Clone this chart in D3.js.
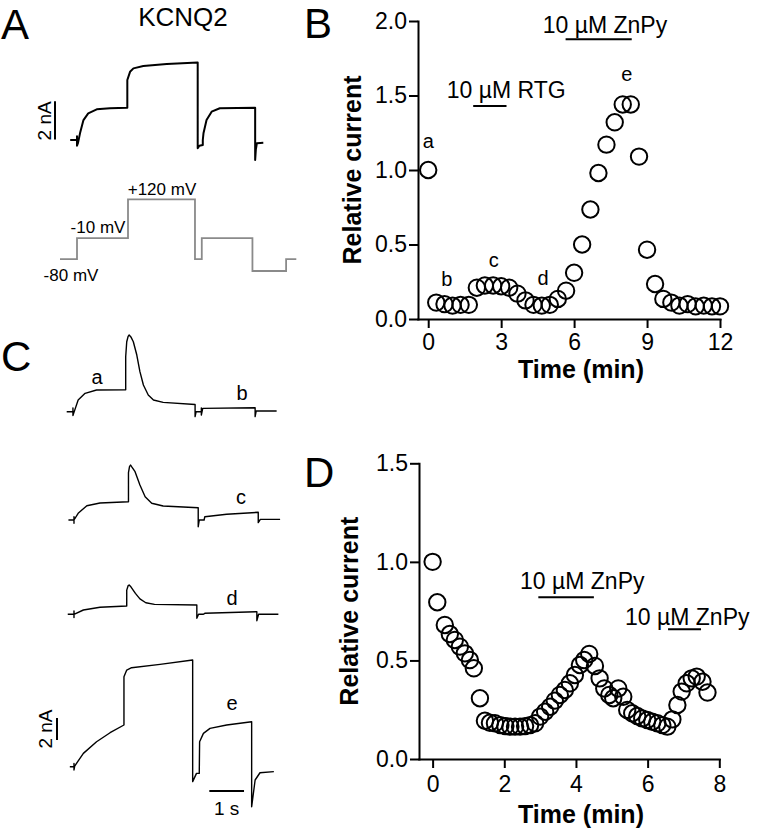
<!DOCTYPE html>
<html><head><meta charset="utf-8">
<script src="https://cdn.jsdelivr.net/npm/d3@7"></script>
<style>
body{margin:0;background:#fff}
svg{display:block}
text{font-family:"Liberation Sans",Arial,Helvetica,sans-serif;fill:#000}
</style>
</head><body>
<svg id="fig" width="757" height="832"></svg>
<script>
// ---------------- DATA ----------------
// Panel B: relative current vs time (min)
const timeB = [0,0.33,0.67,1,1.33,1.67,2,2.33,2.67,3,3.33,3.67,4,4.33,4.67,5,5.33,5.67,6,6.33,6.67,7,7.33,7.67,8,8.33,8.67,9,9.33,9.67,10,10.33,10.67,11,11.33,11.67,12];
const currentB = [1.0,0.11,0.10,0.09,0.095,0.095,0.21,0.225,0.225,0.22,0.21,0.17,0.125,0.095,0.09,0.095,0.135,0.19,0.31,0.50,0.735,0.98,1.17,1.32,1.44,1.44,1.09,0.465,0.235,0.135,0.11,0.09,0.10,0.085,0.09,0.085,0.085];
const ticksBx = [0,3,6,9,12];
const ticksBy = [0,0.5,1.0,1.5,2.0];
const pointLabelsB = ["a","b","c","d","e"];
const pointLabelTimesB = [0,0.76,2.7,4.72,8.17];
const pointLabelValsB = [1.146,0.219,0.348,0.225,1.597];

// Panel D: relative current vs time (min)
const timeD = [0,0.13,0.34,0.48,0.62,0.76,0.90,1.04,1.15,1.32,1.46,1.60,1.74,1.89,2.03,2.17,2.30,2.44,2.58,2.72,2.86,3.0,3.14,3.28,3.41,3.55,3.69,3.83,3.97,4.11,4.23,4.37,4.53,4.66,4.79,4.93,5.04,5.18,5.32,5.43,5.57,5.71,5.85,5.99,6.13,6.27,6.41,6.55,6.69,6.83,6.95,7.09,7.23,7.37,7.53,7.67];
const currentD = [1.0,0.795,0.68,0.634,0.604,0.57,0.536,0.502,0.46,0.308,0.194,0.184,0.181,0.172,0.167,0.164,0.164,0.164,0.167,0.172,0.181,0.215,0.24,0.265,0.296,0.325,0.35,0.384,0.426,0.477,0.502,0.533,0.472,0.409,0.358,0.325,0.308,0.358,0.316,0.249,0.232,0.218,0.206,0.198,0.189,0.181,0.172,0.164,0.201,0.274,0.342,0.384,0.409,0.418,0.392,0.337];
const ticksDx = [0,2,4,6,8];
const ticksDy = [0,0.5,1.0,1.5];

// Drug applications [start, end] in min
const rtgB = [1.85,3.22];
const znpyB = [5.65,8.37];
const znpyD1 = [2.95,4.5];
const znpyD2 = [6.57,7.49];

// Panel A: voltage protocol [time s, mV] and current trace [time s, nA]
const protocolA = [[0,-80],[0.5,-80],[0.5,-10],[2,-10],[2,120],[3.97,120],[3.97,-80],[4.17,-80],[4.17,-10],[5.66,-10],[5.66,-120],[6.65,-120],[6.65,-80],[6.95,-80]];
const protocolLabels = ["+120 mV","-10 mV","-80 mV"];
const traceA = [[0.3,0],[0.5,0],[0.5,0.2],[0.5,-0.3],[0.53,-0.15],[0.59,0.36],[0.69,1.04],[0.83,1.39],[1.08,1.6],[1.47,1.66],[1.98,1.69],[1.98,3.13],[2.06,3.56],[2.16,3.74],[2.45,3.86],[3.14,3.97],[4.05,4.05],[4.05,-0.43],[4.1,-0.3],[4.2,-0.26],[4.2,0.0],[4.22,0.35],[4.31,1.04],[4.46,1.48],[4.7,1.66],[5.74,1.68],[5.74,-1.04],[5.76,-0.5],[5.79,-0.17],[5.98,-0.15]];

// Panel C: current traces a, c, d, e [time s, nA]
const traceCa = [[0.32,0],[0.5,0],[0.5,0.35],[0.5,-0.35],[0.52,-0.15],[0.65,1.06],[0.85,1.67],[1.18,1.97],[2.02,2.0],[2.02,5.0],[2.05,6.36],[2.09,6.85],[2.12,6.97],[2.17,6.8],[2.24,6.36],[2.34,5.15],[2.43,3.64],[2.53,2.43],[2.67,1.52],[2.82,1.06],[3.1,0.85],[4.02,0.65],[4.02,-0.45],[4.05,0],[4.2,0],[4.2,0.35],[4.2,-0.3],[4.24,0.3],[5.75,0.36],[5.75,-0.45],[5.78,0.06],[6.37,0.06]];
const traceCc = [[0.37,0],[0.53,0],[0.53,0.3],[0.53,-0.3],[0.53,0],[0.65,0.61],[0.9,1.3],[1.28,1.55],[2.1,1.66],[2.1,4.3],[2.13,4.85],[2.16,5.0],[2.2,4.8],[2.29,4.39],[2.43,3.18],[2.58,2.12],[2.77,1.52],[3.1,1.27],[4.11,1.12],[4.11,-0.61],[4.14,0],[4.28,0],[4.3,0.3],[4.93,0.52],[5.84,0.7],[5.84,-0.24],[5.9,0.06],[6.47,0.06]];
const traceCd = [[0.35,0],[0.53,0],[0.53,0.3],[0.53,-0.3],[0.53,0],[0.8,0.39],[1.28,0.64],[2.05,0.75],[2.05,2.2],[2.09,2.6],[2.12,2.66],[2.17,2.5],[2.3,1.9],[2.43,1.4],[2.6,1.05],[2.85,0.9],[4.07,0.85],[4.07,-0.36],[4.12,0],[4.26,0],[4.3,0.09],[5.8,0.24],[5.8,-0.58],[5.85,0],[6.42,0]];
const traceCe = [[0.41,0],[0.53,0],[0.53,0.3],[0.53,-0.3],[0.55,0.06],[0.8,1.21],[1.18,2.27],[1.57,3.09],[1.97,3.79],[1.97,8.18],[2.05,8.79],[2.19,9.0],[3.01,9.3],[3.95,9.7],[3.95,-1.36],[4.06,-0.61],[4.14,-0.61],[4.15,2.27],[4.26,3.03],[4.45,3.48],[4.93,3.79],[5.65,4.09],[5.65,-3.64],[5.75,-1.21],[5.89,-0.55],[6.29,-0.45]];
const traceLabelsC = ["a","b","c","d","e"];

// ---------------- DRAW ----------------
const svg = d3.select("#fig");
const FONT = '"Liberation Sans", Arial, Helvetica, sans-serif';

function letter(t, x, y){
  svg.append("text").attr("x",x).attr("y",y).attr("font-size",42).text(t);
}
function txt(t, x, y, size, anchor, weight){
  return svg.append("text").attr("x",x).attr("y",y).attr("font-size",size)
    .attr("text-anchor",anchor||"start").attr("font-weight",weight||"normal").text(t);
}

letter("A",1,39); letter("B",304,38); letter("C",1,371); letter("D",304,487);

// ---- Panel A ----
txt("KCNQ2",183,26,26,"middle");
const xA = d3.scaleLinear().domain([0,7]).range([60,298]);
const yA = d3.scaleLinear().domain([0,4]).range([140,63.4]);
const vA = d3.scaleLinear().domain([-120,120]).range([271,199.3]);
svg.append("path").datum(traceA)
  .attr("d", d3.line().x(d=>xA(d[0])).y(d=>yA(d[1])))
  .attr("fill","none").attr("stroke","#000").attr("stroke-width",2).attr("stroke-linejoin","round");
svg.append("path").datum(protocolA)
  .attr("d", d3.line().x(d=>xA(d[0])).y(d=>vA(d[1])))
  .attr("fill","none").attr("stroke","#8a8a8a").attr("stroke-width",1.8);
txt(protocolLabels[0],162,195,17,"middle");
txt(protocolLabels[1],98,233,17,"middle");
txt(protocolLabels[2],71,281,17,"middle");
// scale bar 2 nA
svg.append("line").attr("x1",55).attr("x2",55).attr("y1",yA(0)-0.5).attr("y2",yA(2)-0.5)
  .attr("stroke","#000").attr("stroke-width",2);
txt("2 nA",0,0,19,"middle").attr("transform",`translate(51,${(yA(0)+yA(2))/2}) rotate(-90)`);

// ---- Panel C ----
const xC = d3.scaleLinear().domain([0,1]).range([55.6,90.3]);
const nA_C = 11; // px per nA (from 2 nA bar)
const rowsC = [
  {data:traceCa, base:411.7},
  {data:traceCc, base:520},
  {data:traceCd, base:614.3},
  {data:traceCe, base:766.7}
];
rowsC.forEach(r=>{
  const y = d3.scaleLinear().domain([0,1]).range([r.base, r.base-nA_C]);
  svg.append("path").datum(r.data)
    .attr("d", d3.line().x(d=>xC(d[0])).y(d=>y(d[1])))
    .attr("fill","none").attr("stroke","#000").attr("stroke-width",1.4).attr("stroke-linejoin","round");
});
txt(traceLabelsC[0],97,384,20,"middle");
txt(traceLabelsC[1],242,400,20,"middle");
txt(traceLabelsC[2],241,504,20,"middle");
txt(traceLabelsC[3],232,605,20,"middle");
txt(traceLabelsC[4],232,710,20,"middle");
// scale bars C
svg.append("line").attr("x1",57).attr("x2",57).attr("y1",740).attr("y2",740-2*nA_C)
  .attr("stroke","#000").attr("stroke-width",2);
txt("2 nA",0,0,19,"middle").attr("transform",`translate(52,${740-nA_C}) rotate(-90)`);
svg.append("line").attr("x1",xC(4.43)).attr("x2",xC(5.43)).attr("y1",791).attr("y2",791)
  .attr("stroke","#000").attr("stroke-width",2);
txt("1 s",(xC(4.43)+xC(5.43))/2,815,19,"middle");

// ---- scatter panels ----
function scatter(cfg){
  const x = d3.scaleLinear().domain(cfg.xd).range(cfg.xr);
  const y = d3.scaleLinear().domain(cfg.yd).range(cfg.yr);
  const g = svg.append("g");
  const xa = g.append("g").attr("transform",`translate(0,${cfg.yr[0]})`)
    .call(d3.axisBottom(x).tickValues(cfg.xt).tickSize(9).tickSizeOuter(0).tickPadding(cfg.xpad).tickFormat(d3.format("d")));
  const ya = g.append("g").attr("transform",`translate(${cfg.xr[0]},0)`)
    .call(d3.axisLeft(y).tickValues(cfg.yt).tickSize(9).tickSizeOuter(0).tickPadding(2).tickFormat(d3.format(".1f")));
  [xa,ya].forEach(a=>{
    a.selectAll("path,line").attr("stroke","#000").attr("stroke-width",2);
    a.select("path.domain").attr("stroke-linecap","square");
    a.selectAll("text").attr("font-size",23).attr("font-family",FONT).attr("fill","#000");
  });
  g.selectAll("circle.pt").data(cfg.t.map((t,i)=>[t,cfg.v[i]])).enter().append("circle")
    .attr("cx",d=>x(d[0])).attr("cy",d=>y(d[1])).attr("r",8.2)
    .attr("fill","none").attr("stroke","#000").attr("stroke-width",2);
  g.append("text").attr("x",581).attr("y",cfg.xtitleY).attr("text-anchor","middle")
    .attr("font-size",25).attr("font-weight","bold").text("Time (min)");
  g.append("text").attr("transform",`translate(${cfg.ytitleX},${(cfg.yr[0]+cfg.yr[1])/2}) rotate(-90)`)
    .attr("text-anchor","middle").attr("font-size",25).attr("font-weight","bold").text("Relative current");
  return {x,y};
}

const B = scatter({xd:[-0.42,12], xr:[418,720], yd:[0,2], yr:[319,21], xt:ticksBx, yt:ticksBy,
  t:timeB, v:currentB, xpad:6, xtitleY:378, ytitleX:361});
pointLabelsB.forEach((l,i)=>{
  txt(l, B.x(pointLabelTimesB[i]), B.y(pointLabelValsB[i]), 20, "middle");
});
function drugBar(sc, range, yv){
  svg.append("line").attr("x1",sc.x(range[0])).attr("x2",sc.x(range[1]))
    .attr("y1",sc.y(yv)).attr("y2",sc.y(yv)).attr("stroke","#000").attr("stroke-width",2);
}
drugBar(B, rtgB, 1.43);
txt("10 µM RTG", B.x(0.76), B.y(1.48), 23);
drugBar(B, znpyB, 1.877);
txt("10 µM ZnPy", B.x(4.71), B.y(1.92), 23);

const D = scatter({xd:[-0.38,8], xr:[419,719.3], yd:[0,1.5], yr:[759,463.3], xt:ticksDx, yt:ticksDy,
  t:timeD, v:currentD, xpad:8, xtitleY:823, ytitleX:358});
drugBar(D, znpyD1, 0.82);
txt("10 µM ZnPy", D.x(2.44), D.y(0.863), 23);
drugBar(D, znpyD2, 0.658);
txt("10 µM ZnPy", D.x(5.37), D.y(0.68), 23);
</script>
</body></html>
